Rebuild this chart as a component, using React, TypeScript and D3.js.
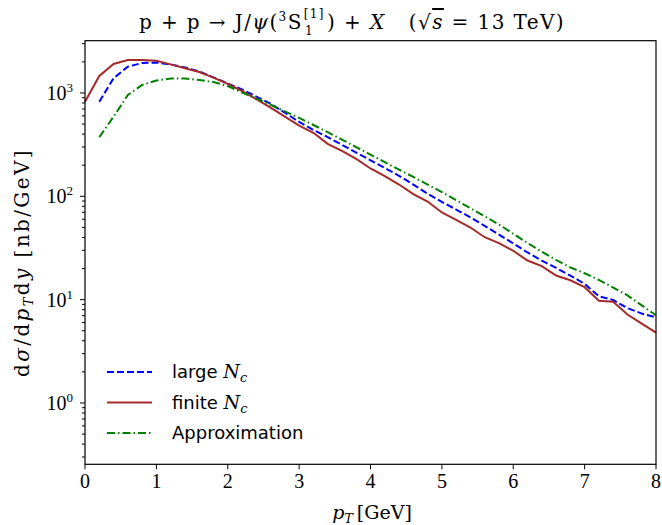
import * as d3 from "d3";

// pT grid (GeV)
const ptFinite = d3.range(0, 41).map((i) => i * 0.2);
const ptOthers = d3.range(1, 41).map((i) => i * 0.2);

// d sigma / dpT dy [nb/GeV]
const largeNc = [
  824, 1388, 1798, 1952, 1973, 1888, 1766, 1615, 1416, 1236,
  1081, 923, 787, 644, 525, 439, 374, 315, 265, 223,
  188, 158, 130, 106, 88.3, 74.5, 62.6, 51.7, 42.6, 35,
  28.6, 23.9, 20.3, 17.1, 14.2, 10.8, 9.91, 8.29, 7.33, 6.75,
];
const finiteNc = [
  824, 1462, 1909, 2085, 2085, 2055, 1892, 1738, 1596, 1406,
  1227, 1045, 873, 723, 591, 484, 412, 322, 275, 230,
  186, 157, 130, 105, 89, 69.7, 59.3, 49.9, 40.2, 35.3,
  29.7, 23.9, 21.1, 17.1, 15.4, 13.2, 9.76, 9.54, 7.18, 5.87, 4.79,
];
const approx = [
  373, 590, 956, 1195, 1321, 1381, 1381, 1336, 1278, 1169,
  1011, 885, 769, 664, 574, 490, 418, 354, 299, 253,
  214, 181, 154, 130, 110, 91.7, 76.7, 64.2, 53.3, 43.4,
  35.3, 29.1, 24.2, 20.5, 18, 15.5, 13.1, 11, 8.8, 7.06,
];

const xTicks = [0, 1, 2, 3, 4, 5, 6, 7, 8];
const yMajor = [1, 10, 100, 1000];

const W = 662;
const H = 525;
const left = 85;
const right = 656;
const top = 40.7;
const bottom = 464.3;

const serif = "'Liberation Serif', 'DejaVu Serif', serif";
const wideSerif = "'DejaVu Serif', serif";
const sans = "'DejaVu Sans', sans-serif";

export default function App() {
  const x = d3.scaleLinear().domain([0, 8]).range([left, right]);
  const y = d3.scaleLog().domain([0.255, 3206]).range([bottom, top]);

  const line = d3
    .line<[number, number]>()
    .x((d) => x(d[0]))
    .y((d) => y(d[1]));

  const zip = (xs: number[], ys: number[]) =>
    ys.map((v, i) => [xs[i], v] as [number, number]);

  const series = [
    { label: "large ", data: zip(ptOthers, largeNc), color: "#0000ff", dash: "7,3" },
    { label: "finite ", data: zip(ptFinite, finiteNc), color: "#a52a2a", dash: "" },
    { label: "Approximation", data: zip(ptOthers, approx), color: "#008000", dash: "8,3,1.5,3" },
  ];

  const minor: number[] = [];
  for (let e = -1; e <= 3; e++) {
    for (let k = 2; k <= 9; k++) {
      const v = k * Math.pow(10, e);
      if (v >= 0.255 && v <= 3206) minor.push(v);
    }
  }

  return (
    <svg
      width={W}
      height={H}
      style={{ position: "absolute", left: 0, top: 0, background: "#fff" }}
    >
      <rect width={W} height={H} fill="#fff" />

      {/* title */}
      <text
        x={352}
        y={29}
        fontFamily={wideSerif}
        fontSize={20}
        letterSpacing={1.4}
        textAnchor="middle"
      >
        <tspan>{"p + p → J/"}</tspan>
        <tspan fontStyle="italic">ψ</tspan>
        <tspan>(</tspan>
        <tspan fontSize={12} dy={-8}>3</tspan>
        <tspan dy={8}>S</tspan>
        <tspan fontSize={12} dx={1} dy={-11}>[1]</tspan>
        <tspan fontSize={12} dx={-20} dy={17}>1</tspan>
        <tspan dx={13} dy={-6}>{") + "}</tspan>
        <tspan fontStyle="italic">X</tspan>
        <tspan>{"\u00a0\u00a0\u00a0("}</tspan>
        <tspan>√</tspan>
        <tspan fontStyle="italic" textDecoration="overline">s</tspan>
        <tspan>{" = 13 TeV)"}</tspan>
      </text>

      {/* curves */}
      {series.map((s) => (
        <path
          key={s.label}
          d={line(s.data) ?? ""}
          fill="none"
          stroke={s.color}
          strokeWidth={2}
          strokeDasharray={s.dash}
        />
      ))}

      {/* frame */}
      <rect
        x={left}
        y={top}
        width={right - left}
        height={bottom - top}
        fill="none"
        stroke="#000"
        strokeWidth={1.2}
      />

      {/* x ticks */}
      {xTicks.map((t) => (
        <g key={t}>
          <line x1={x(t)} x2={x(t)} y1={bottom} y2={bottom + 5} stroke="#000" />
          <text
            x={x(t)}
            y={bottom + 24}
            fontFamily={serif}
            fontSize={20}
            textAnchor="middle"
          >
            {t}
          </text>
        </g>
      ))}

      {/* y ticks */}
      {minor.map((v) => (
        <line key={v} x1={left - 3} x2={left} y1={y(v)} y2={y(v)} stroke="#000" />
      ))}
      {yMajor.map((v) => (
        <g key={v}>
          <line x1={left - 5} x2={left} y1={y(v)} y2={y(v)} stroke="#000" />
          <text
            x={left - 12}
            y={y(v) + 7}
            fontFamily={serif}
            fontSize={20}
            textAnchor="end"
          >
            10
            <tspan fontSize={13} dy={-8}>
              {Math.round(Math.log10(v))}
            </tspan>
          </text>
        </g>
      ))}

      {/* axis labels */}
      <text x={372} y={519} fontFamily={wideSerif} fontSize={19} textAnchor="middle">
        <tspan fontStyle="italic">p</tspan>
        <tspan fontSize={13} dy={4} fontStyle="italic">T</tspan>
        <tspan dy={-4}>{"\u2009[GeV]"}</tspan>
      </text>
      <text
        transform={`translate(29,${(top + bottom) / 2 + 10}) rotate(-90)`}
        fontFamily={wideSerif}
        fontSize={20}
        letterSpacing={2.4}
        textAnchor="middle"
      >
        <tspan>d</tspan>
        <tspan fontStyle="italic">σ</tspan>
        <tspan>/d</tspan>
        <tspan fontStyle="italic">p</tspan>
        <tspan fontSize={13} dy={4} fontStyle="italic">T</tspan>
        <tspan dy={-4}>d</tspan>
        <tspan fontStyle="italic">y</tspan>
        <tspan>{" [nb/GeV]"}</tspan>
      </text>

      {/* legend */}
      {series.map((s, i) => {
        const ly = 372 + i * 30.5;
        return (
          <g key={s.label}>
            <line
              x1={107}
              x2={152}
              y1={ly}
              y2={ly}
              stroke={s.color}
              strokeWidth={2}
              strokeDasharray={s.dash}
            />
            <text x={172} y={ly + 6} fontFamily={sans} fontSize={18}>
              {s.label}
              {i < 2 && (
                <>
                  <tspan fontFamily={wideSerif} fontStyle="italic" fontSize={19}>
                    N
                  </tspan>
                  <tspan fontFamily={wideSerif} fontStyle="italic" fontSize={13} dy={4}>
                    c
                  </tspan>
                </>
              )}
            </text>
          </g>
        );
      })}
    </svg>
  );
}
